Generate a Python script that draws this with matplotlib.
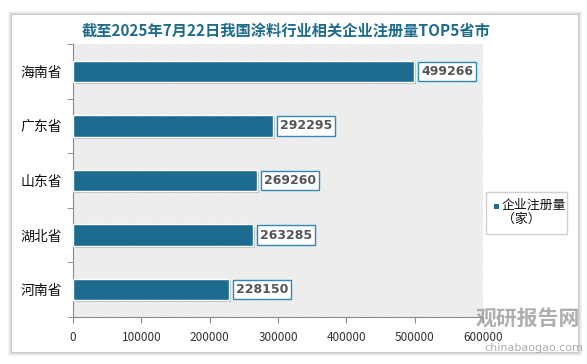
import matplotlib
matplotlib.use("Agg")
import matplotlib.pyplot as plt
import matplotlib.patheffects as pe
from matplotlib.patches import Rectangle

plt.rcParams['font.family'] = ['Noto Sans CJK SC', 'DejaVu Sans']
plt.rcParams['hatch.linewidth'] = 0.6

# data
provinces = ["海南省", "广东省", "山东省", "湖北省", "河南省"]
counts = [499266, 292295, 269260, 263285, 228150]
xticks = [0, 100000, 200000, 300000, 400000, 500000, 600000]
title = "截至2025年7月22日我国涂料行业相关企业注册量TOP5省市"
legend_label = "企业注册量\n（家）"

BAR = "#1d6b8e"
TITLE_C = "#1f6b8c"
BOX_EDGE = "#2e88b8"

W, H = 587, 364
fig = plt.figure(figsize=(W / 100, H / 100), dpi=100)
fig.patch.set_facecolor("white")

# card with soft shadow
for i, a in enumerate([0.04, 0.05, 0.06, 0.07]):
    d = 4 - i
    fig.patches.append(Rectangle(((12 - d) / W, 1 - (352 + d) / H), (566 + 2 * d) / W, (337 + 2 * d) / H,
                                 transform=fig.transFigure, facecolor="black", alpha=a,
                                 edgecolor="none", zorder=0))
fig.patches.append(Rectangle((12 / W, 1 - 352 / H), 566 / W, 337 / H, transform=fig.transFigure,
                             facecolor="white", edgecolor="none", zorder=1))

ax = fig.add_axes([73 / W, 1 - 317 / H, (483 - 73) / W, (317 - 44) / H])
ax.set_zorder(2)
ax.patch.set_alpha(0)
ax.add_patch(Rectangle((0, 0), 1, 1, transform=ax.transAxes, facecolor="white",
                       edgecolor="#dcdcdc", hatch="\\" * 14, linewidth=0, zorder=0))

ypos = list(range(len(provinces)))
ax.barh(ypos, counts, height=0.39, color=BAR, edgecolor="white", linewidth=1, zorder=3,
        path_effects=[pe.SimplePatchShadow(offset=(1.5, -1.5), alpha=0.25), pe.Normal()])
for y, v in zip(ypos, counts):
    ax.annotate(f"{v}", (v, y), xytext=(5, 0), textcoords="offset points", ha="left", va="center",
                fontsize=9, fontweight="bold", color="#555555", family=["DejaVu Sans"], zorder=5,
                bbox=dict(boxstyle="square,pad=0.25", facecolor="white", edgecolor=BOX_EDGE, linewidth=1))

ax.set_xlim(0, 600000)
ax.set_ylim(len(provinces) - 0.5, -0.5)
ax.set_xticks(xticks)
ax.set_xticklabels([str(t) for t in xticks], fontsize=8.5, color="#333333")
ax.set_yticks(ypos)
ax.set_yticklabels(provinces, fontsize=10, color="#111111")
ax.set_yticks([i + 0.5 for i in range(-1, len(provinces))], minor=True)
ax.tick_params(axis="y", which="major", length=0, pad=8)
ax.tick_params(axis="y", which="minor", length=4, color="#888888", direction="out")
ax.tick_params(axis="x", length=4, color="#888888", pad=6)
for s in ["top", "right"]:
    ax.spines[s].set_visible(False)
ax.spines["left"].set_color("#888888")
ax.spines["bottom"].set_color("#888888")

fig.text(286 / W, 1 - 31 / H, title, ha="center", va="center", fontsize=11, fontweight="bold",
         color=TITLE_C, zorder=5)

# legend
fig.patches.append(Rectangle((486 / W, 1 - 234 / H), 81 / W, 42 / H, transform=fig.transFigure,
                             facecolor="white", edgecolor="#d0d0d0", linewidth=1, zorder=3))
fig.patches.append(Rectangle((494 / W, 1 - 209 / H), 5 / W, 5 / H, transform=fig.transFigure,
                             facecolor=BAR, edgecolor="none", zorder=4))
fig.text(502 / W, 1 - 199 / H, legend_label, ha="left", va="top", fontsize=9.3, color="#111111",
         linespacing=1.1, zorder=5)

# watermark
fig.text(528 / W, 1 - 318 / H, "观研报告网", ha="center", va="center", fontsize=15, fontweight="bold",
         color="#9a9a9a", alpha=0.8, zorder=6)
fig.text(534 / W, 1 - 348 / H, "chinabaogao.com", ha="center", va="center", fontsize=8,
         color="#9a9a9a", alpha=0.8, zorder=6, family=["DejaVu Sans"])

fig.savefig("out.png", dpi=100)
